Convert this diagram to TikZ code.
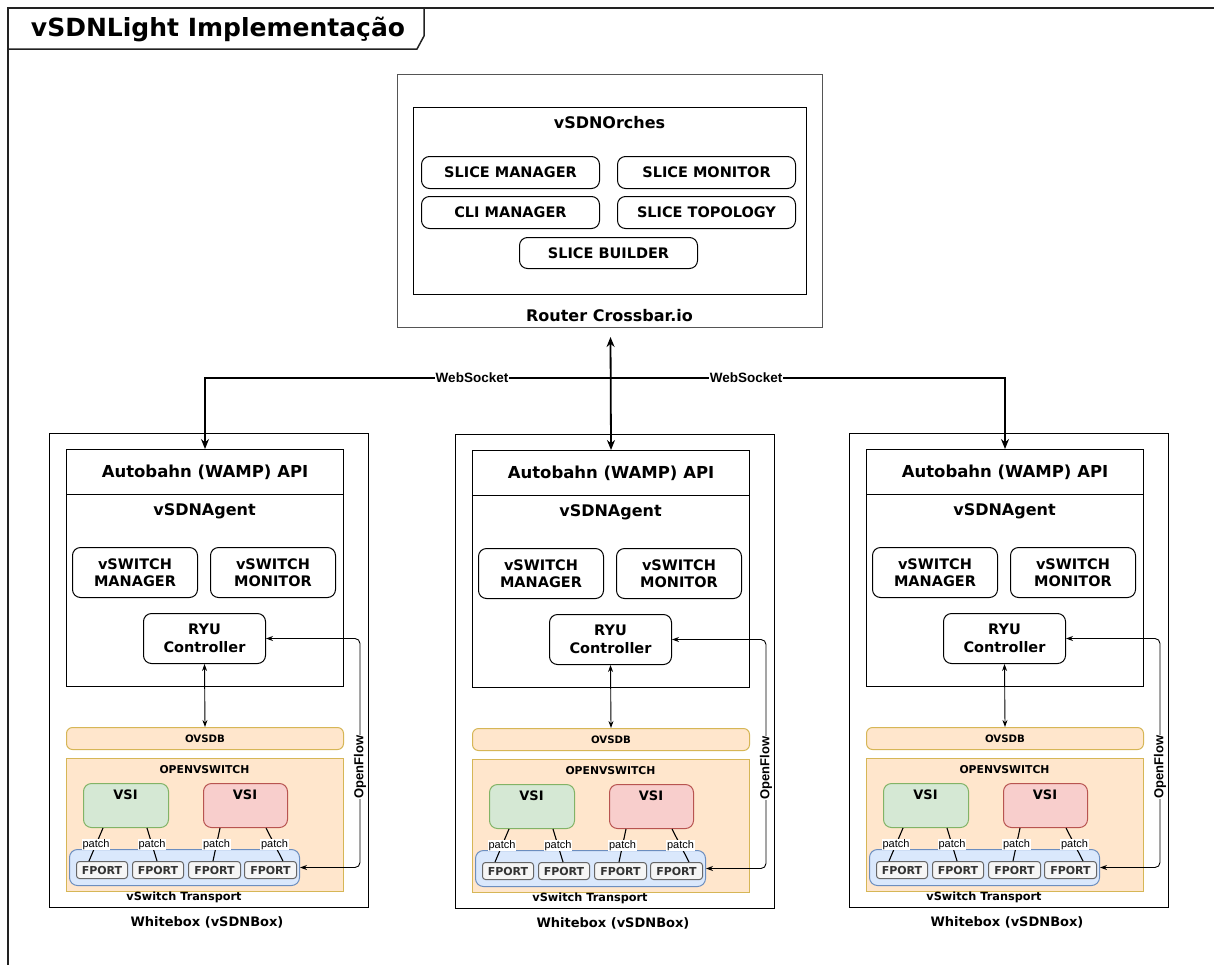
\documentclass[tikz,border=0pt]{standalone}
\usepackage{fontspec}
\setmainfont{DejaVu Sans}
\newfontfamily\helv{Liberation Sans}
\usetikzlibrary{arrows.meta}

\definecolor{peachfill}{HTML}{FFE6CC}
\definecolor{peachline}{HTML}{D6B656}
\definecolor{greenfill}{HTML}{D5E8D4}
\definecolor{greenline}{HTML}{82B366}
\definecolor{redfill}{HTML}{F8CECC}
\definecolor{redline}{HTML}{B85450}
\definecolor{bluefill}{HTML}{DAE8FC}
\definecolor{blueline}{HTML}{6C8EBF}
\definecolor{portfill}{HTML}{F5F5F5}
\definecolor{portline}{HTML}{666666}
\definecolor{porttext}{HTML}{333333}
\definecolor{framegray}{HTML}{222222}
\definecolor{routergray}{HTML}{555555}

% bold text at a given size / baseline skip
\newcommand\fs[2]{\fontsize{#1}{#2}\selectfont\bfseries}

% box from its top-left to its bottom-right corner
\newcommand\bx[7]{%
  \node[#2, anchor=north west, inner sep=0pt,
        minimum width={(#5-#3)*1pt}, minimum height={(#6-#4)*1pt}]
        (#1) at (#3,#4) {#7};}

\tikzset{
  plain/.style={draw=black, line width=1pt},
  rbox/.style={draw=black, line width=1pt, rounded corners=8pt, fill=white},
  framepen/.style={draw=framegray, line width=1.5pt},
  tA/.style={font=\fs{16}{19}},
  tB/.style={font=\fs{14.5}{17.5}, align=center},
  tC/.style={font=\fs{13}{15}},
  peachbox/.style={draw=peachline, fill=peachfill, line width=1pt},
  vsigreen/.style={draw=greenline, fill=greenfill, line width=1pt, rounded corners=8pt},
  vsired/.style={draw=redline, fill=redfill, line width=1pt, rounded corners=8pt},
  transport/.style={draw=blueline, fill=bluefill, line width=1pt, rounded corners=8pt},
  fport/.style={draw=portline, fill=portfill, line width=1pt, rounded corners=3pt,
                text=porttext, font=\fs{11}{13}},
  wsline/.style={draw=black, line width=1.8pt},
  thinline/.style={draw=black, line width=0.9pt},
  bigtip/.tip={Stealth[length=10pt, width=8pt]},
  smalltip/.tip={Stealth[length=7pt, width=5pt]},
  wslabel/.style={fill=white, inner sep=1pt, font=\helv\bfseries\fontsize{13.5}{15}\selectfont},
  oflabel/.style={fill=white, inner sep=1pt, rotate=90, font=\helv\bfseries\fontsize{13}{15}\selectfont},
  patchline/.style={draw=black, line width=1.1pt},
  patchlbl/.style={fill=white, inner sep=0.8pt, font=\helv\fontsize{11}{13}\selectfont},
}

% one Whitebox (vSDNBox): index, x shift, y shift
\newcommand\whitebox[3]{%
\begin{scope}[shift={(#2,#3)}]
  \bx{wb#1}{plain}{49}{433}{368}{907}{}
  \bx{api#1}{plain, font=\fs{16.5}{20}}{66}{449}{343}{494}{Autobahn (WAMP) API}
  \bx{agent#1}{plain}{66}{494}{343}{686}{}
  \node[tA] (agentlbl#1) at (204.5,511) {vSDNAgent};
  \bx{vmgr#1}{rbox, tB}{72}{547}{197}{597}{vSWITCH\\MANAGER}
  \bx{vmon#1}{rbox, tB}{210}{547}{335}{597}{vSWITCH\\MONITOR}
  \bx{ryu#1}{rbox, tB}{143}{613}{265}{663}{RYU\\Controller}
  \bx{ovsdb#1}{peachbox, rounded corners=6pt, font=\fs{10.2}{12}}{66}{727}{343}{749}{OVSDB}
  \bx{ovs#1}{peachbox}{66}{758}{343}{891}{}
  \node[font=\fs{10.8}{12}] (ovslbl#1) at (204.5,770) {OPENVSWITCH};
  \bx{vsiA#1}{vsigreen}{83}{783}{168}{827}{}
  \bx{vsiB#1}{vsired}{203}{783}{287}{827}{}
  \node[tC] (vsiAlbl#1) at (125.5,795) {VSI};
  \node[tC] (vsiBlbl#1) at (245,795) {VSI};
  \bx{tr#1}{transport}{69}{849}{299}{885}{}
  \bx{fpa#1}{fport}{76}{861}{127}{878}{FPORT}
  \bx{fpb#1}{fport}{132}{861}{183}{878}{FPORT}
  \bx{fpc#1}{fport}{188}{861}{240}{878}{FPORT}
  \bx{fpd#1}{fport}{244}{861}{296}{878}{FPORT}
  \node[font=\fs{11.3}{13}] (trlbl#1) at (184,897) {vSwitch Transport};
  \node[font=\fs{13}{15}] (wblbl#1) at (207,922) {Whitebox (vSDNBox)};
  % patch links between the VSIs and the ports
  \draw[patchline] ([xshift=20pt]vsiA#1.south west) -- ([xshift=13pt]fpa#1.north west)
      node[midway, patchlbl] (pa#1) {patch};
  \draw[patchline] ([xshift=64pt]vsiA#1.south west) -- ([xshift=25pt]fpb#1.north west)
      node[midway, patchlbl] (pb#1) {patch};
  \draw[patchline] ([xshift=17pt]vsiB#1.south west) -- ([xshift=25pt]fpc#1.north west)
      node[midway, patchlbl] (pc#1) {patch};
  \draw[patchline] ([xshift=63pt]vsiB#1.south west) -- ([xshift=39pt]fpd#1.north west)
      node[midway, patchlbl] (pd#1) {patch};
  % controller links
  \draw[thinline, smalltip-smalltip] (ryu#1.south) -- (ovsdb#1.north);
  \coordinate (of#1) at (360,767);
  \draw[thinline, smalltip-smalltip, rounded corners=5pt]
      (ryu#1.east) -| (of#1) |- (tr#1.east);
  \node[oflabel] (oflbl#1) at (of#1) {OpenFlow};
\end{scope}}

\begin{document}
\begin{tikzpicture}[x=1pt, y=-1pt]
  \useasboundingbox (0,0) rectangle (1214,964);
  \fill[white] (0,0) rectangle (1214,964);

  % outer frame and title tab
  \draw[framepen] (8,966) -- (8,8) -- (1216,8);
  \draw[framepen] (8,49) -- (417,49) -- (424,36) -- (424,8);
  \node[font=\fs{25}{30}] (title) at (218,29) {vSDNLight Implementação};

  % Router Crossbar.io with the orchestrator
  \bx{router}{plain, draw=routergray}{397}{74}{822}{327}{}
  \bx{orch}{plain}{413}{107}{806}{294}{}
  \node[tA] (orchlbl) at (609.5,123) {vSDNOrches};
  \bx{smgr}{rbox, tB}{421}{156}{599}{188}{SLICE MANAGER}
  \bx{smon}{rbox, tB}{617}{156}{795}{188}{SLICE MONITOR}
  \bx{cli}{rbox, tB}{421}{196}{599}{228}{CLI MANAGER}
  \bx{stopo}{rbox, tB}{617}{196}{795}{228}{SLICE TOPOLOGY}
  \bx{sbld}{rbox, tB}{519}{237}{697}{268}{SLICE BUILDER}
  \node[tA] (routerlbl) at (609.5,316) {Router Crossbar.io};

  % the three boxes
  \whitebox{1}{0}{0}
  \whitebox{2}{406}{1}
  \whitebox{3}{800}{0}

  % WebSocket links
  \coordinate (rtip) at (610.5,337);
  \coordinate (hub) at (610.5,378);
  \draw[wsline, bigtip-bigtip] (rtip) -- (api2.north);
  \draw[wsline, -bigtip] (hub) -| (api1.north);
  \draw[wsline, -bigtip] (hub) -| (api3.north);
  \node[wslabel] (ws1) at (472,378) {WebSocket};
  \node[wslabel] (ws2) at (746,378) {WebSocket};
\end{tikzpicture}
\end{document}
